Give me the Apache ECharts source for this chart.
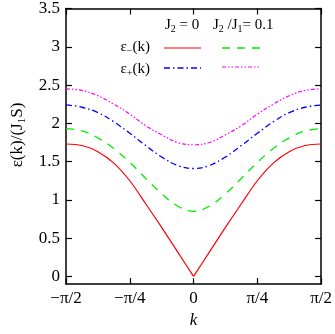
<!DOCTYPE html>
<html>
<head>
<meta charset="utf-8">
<script src="https://cdn.jsdelivr.net/npm/echarts@6/dist/echarts.min.js"></script>
<style>
html, body { margin: 0; padding: 0; background: #fff; }
#chart { width: 335px; height: 334px; }
</style>
</head>
<body>
<div id="chart"></div>
<script>
// k in units of pi
var kVals = [-0.5, -0.4375, -0.375, -0.3125, -0.25, -0.1875, -0.125, -0.0625, 0,
             0.0625, 0.125, 0.1875, 0.25, 0.3125, 0.375, 0.4375, 0.5];
var minusJ0 = [1.73, 1.71, 1.63, 1.48, 1.25, 0.95, 0.64, 0.32, 0,
               0.32, 0.64, 0.95, 1.25, 1.48, 1.63, 1.71, 1.73];
var minusJ01 = [1.93, 1.90, 1.81, 1.67, 1.49, 1.28, 1.08, 0.92, 0.85,
                0.92, 1.08, 1.28, 1.49, 1.67, 1.81, 1.90, 1.93];
var plusJ0 = [2.24, 2.21, 2.14, 2.02, 1.87, 1.71, 1.56, 1.45, 1.41,
              1.45, 1.56, 1.71, 1.87, 2.02, 2.14, 2.21, 2.24];
var plusJ01 = [2.45, 2.43, 2.36, 2.25, 2.12, 1.97, 1.85, 1.75, 1.72,
               1.75, 1.85, 1.97, 2.12, 2.25, 2.36, 2.43, 2.45];
var xTicks = [-0.5, -0.25, 0, 0.25, 0.5];
var xTickLabels = ['\u2212\u03c0/2', '\u2212\u03c0/4', '0', '\u03c0/4', '\u03c0/2'];
var yTicks = [0, 0.5, 1, 1.5, 2, 2.5, 3, 3.5];

var font = 'Liberation Serif';
var chart = echarts.init(document.getElementById('chart'));

function pairs(ys, from, to) {
  var out = [];
  for (var i = from; i <= to; i++) out.push([kVals[i], ys[i]]);
  return out;
}
var mid = kVals.indexOf(0);
var last = kVals.length - 1;

var axisLine = { show: true, onZero: false, lineStyle: { color: '#000', width: 1.5 } };
var tickIn = { show: true, inside: true, length: 6, lineStyle: { color: '#000', width: 1.2 } };
var yTickIn = { show: true, inside: true, length: 6, lineStyle: { color: '#000', width: 1.2 }, customValues: yTicks };

var redStyle = { color: '#ff0000', width: 1.2 };

var option = {
  animation: false,
  backgroundColor: '#fff',
  grid: { left: 66, right: 13, top: 7, bottom: 39 },
  xAxis: [
    {
      type: 'value', min: -0.5, max: 0.5, interval: 0.25,
      axisLine: axisLine, axisTick: tickIn, splitLine: { show: false },
      axisLabel: {
        margin: 6, color: '#000', fontFamily: font, fontSize: 17,
        formatter: function (v) {
          var i = xTicks.indexOf(Math.round(v * 10000) / 10000);
          return i >= 0 ? xTickLabels[i] : '';
        }
      },
      name: 'k', nameLocation: 'middle', nameGap: 26,
      nameTextStyle: { fontFamily: font, fontSize: 17, fontStyle: 'italic', color: '#000' }
    },
    {
      type: 'value', position: 'top', min: -0.5, max: 0.5, interval: 0.25,
      axisLine: axisLine, axisTick: tickIn, axisLabel: { show: false }, splitLine: { show: false }
    }
  ],
  yAxis: [
    {
      type: 'value', min: -0.1, max: 3.5,
      axisLine: axisLine, splitLine: { show: false }, axisTick: yTickIn,
      axisLabel: {
        margin: 6, color: '#000', fontFamily: font, fontSize: 17,
        customValues: yTicks,
        formatter: function (v) { return String(Math.round(v * 10) / 10); }
      }
    },
    {
      type: 'value', position: 'right', min: -0.1, max: 3.5,
      axisLine: axisLine, splitLine: { show: false }, axisTick: yTickIn,
      axisLabel: { show: false, customValues: yTicks }
    }
  ],
  series: [
    // the J2 = 0 lower branch has a cusp at k = 0, so each half is drawn on its own
    {
      name: 'minusJ0', type: 'line', data: pairs(minusJ0, 0, mid), showSymbol: false, smooth: 0.35,
      lineStyle: redStyle
    },
    {
      name: 'minusJ0', type: 'line', data: pairs(minusJ0, mid, last), showSymbol: false, smooth: 0.35,
      lineStyle: redStyle
    },
    {
      name: 'minusJ01', type: 'line', data: pairs(minusJ01, 0, last), showSymbol: false, smooth: 0.4,
      lineStyle: { color: '#00ee00', width: 1.3, type: [8, 7] }
    },
    {
      name: 'plusJ0', type: 'line', data: pairs(plusJ0, 0, last), showSymbol: false, smooth: 0.4,
      lineStyle: { color: '#0000ff', width: 1.3, type: [6, 3, 1.5, 3] }
    },
    {
      name: 'plusJ01', type: 'line', data: pairs(plusJ01, 0, last), showSymbol: false, smooth: 0.4,
      lineStyle: { color: '#ff00ff', width: 1.2, type: [4, 2, 1.5, 2, 1.5, 2] }
    }
  ],
  graphic: [
    {
      type: 'text', x: 18, y: 135, rotation: Math.PI / 2,
      style: {
        text: '{a|\u03b5(k)/(J}{s|1}{a|S)}', align: 'center', verticalAlign: 'middle',
        rich: {
          a: { fontFamily: font, fontSize: 17, fill: '#000' },
          s: { fontFamily: font, fontSize: 11, fill: '#000', padding: [9, 0, 0, 0] }
        }
      }
    },
    {
      type: 'text', x: 165, y: 25,
      style: {
        text: '{a|J}{s|2}{a| = 0}', verticalAlign: 'middle',
        rich: {
          a: { fontFamily: font, fontSize: 15, fill: '#000' },
          s: { fontFamily: font, fontSize: 10, fill: '#000', padding: [8, 0, 0, 0] }
        }
      }
    },
    {
      type: 'text', x: 213, y: 25,
      style: {
        text: '{a|J}{s|2}{a| /J}{s|1}{a|= 0.1}', verticalAlign: 'middle',
        rich: {
          a: { fontFamily: font, fontSize: 15, fill: '#000' },
          s: { fontFamily: font, fontSize: 10, fill: '#000', padding: [8, 0, 0, 0] }
        }
      }
    },
    {
      type: 'text', x: 150, y: 47,
      style: {
        text: '{a|\u03b5}{s|\u2212}{a|(k)}', align: 'right', verticalAlign: 'middle',
        rich: {
          a: { fontFamily: font, fontSize: 15, fill: '#000' },
          s: { fontFamily: font, fontSize: 10, fill: '#000', padding: [8, 0, 0, 0] }
        }
      }
    },
    {
      type: 'text', x: 150, y: 69,
      style: {
        text: '{a|\u03b5}{s|+}{a|(k)}', align: 'right', verticalAlign: 'middle',
        rich: {
          a: { fontFamily: font, fontSize: 15, fill: '#000' },
          s: { fontFamily: font, fontSize: 10, fill: '#000', padding: [8, 0, 0, 0] }
        }
      }
    },
    { type: 'line', shape: { x1: 164, y1: 48, x2: 201, y2: 48 }, style: { stroke: '#ff0000', lineWidth: 1.2 } },
    { type: 'line', shape: { x1: 222, y1: 48, x2: 260, y2: 48 }, style: { stroke: '#00ee00', lineWidth: 1.3, lineDash: [8, 7] } },
    { type: 'line', shape: { x1: 164, y1: 68, x2: 201, y2: 68 }, style: { stroke: '#0000ff', lineWidth: 1.3, lineDash: [6, 3, 1.5, 3] } },
    { type: 'line', shape: { x1: 222, y1: 67, x2: 260, y2: 67 }, style: { stroke: '#ff00ff', lineWidth: 1.2, lineDash: [4, 2, 1.5, 2, 1.5, 2] } }
  ]
};
chart.setOption(option);
</script>
</body>
</html>
